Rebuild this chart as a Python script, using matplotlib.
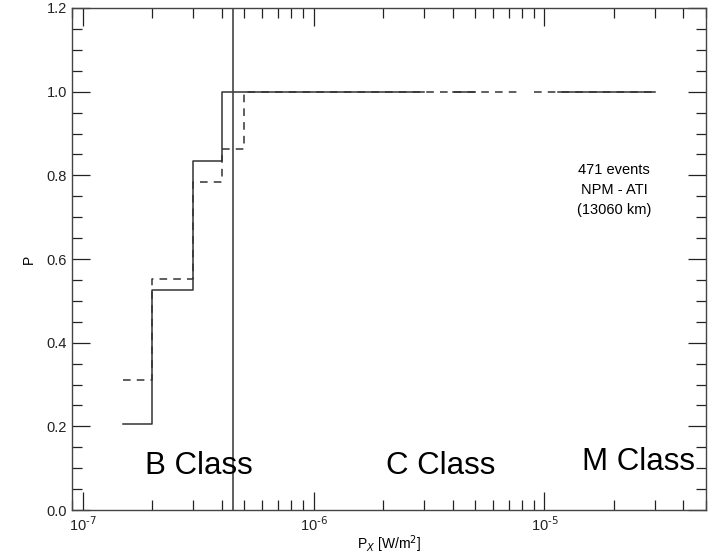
import numpy as np
import matplotlib.pyplot as plt
from matplotlib.ticker import LogLocator, MultipleLocator, NullFormatter

plt.rcParams['font.family'] = ['Liberation Sans', 'DejaVu Sans']

# ── Data ────────────────────────────────────────────────────
# solid curve: bin edges and values in the B-class range
solid_edges = [1.5e-7, 2e-7, 3e-7, 4e-7]
solid_vals = [0.205, 0.525, 0.835]
# dashed curve
dash_edges = [1.5e-7, 2e-7, 3e-7, 4e-7, 5e-7]
dash_vals = [0.31, 0.553, 0.785, 0.862]
# segments at P = 1 (gaps = empty bins)
solid_top = [(4e-7, 3e-6), (4e-6, 5e-6), (1.15e-5, 3e-5)]
dash_top = [(5e-7, 8e-6), (9e-6, 3e-5)]
vline_x = 4.5e-7
note = "471 events\nNPM - ATI\n(13060 km)"
classes = ["B Class", "C Class", "M Class"]
class_x = [1.87e-7, 2.05e-6, 1.45e-5]
class_y = [0.086, 0.086, 0.096]

fig = plt.figure(figsize=(7.08, 5.55), dpi=100)
ax = fig.add_axes([0.1017, 0.081, 0.8953, 0.9046])
lc = '#333333'


def step_xy(edges, vals):
    xs, ys = [], []
    for i, v in enumerate(vals):
        xs += [edges[i], edges[i + 1]]
        ys += [v, v]
    return xs, ys


# ── Solid curve ──────────────────────────────────────────────
xs, ys = step_xy(solid_edges, solid_vals)
xs += [solid_top[0][0], solid_top[0][1]]
ys += [1.0, 1.0]
ax.plot(xs, ys, color=lc, lw=1.1)
for a, b in solid_top[1:]:
    ax.plot([a, b], [1.0, 1.0], color=lc, lw=1.1)

# ── Dashed curve ─────────────────────────────────────────────
xs, ys = step_xy(dash_edges, dash_vals)
xs += [dash_top[0][0], dash_top[0][1]]
ys += [1.0, 1.0]
ax.plot(xs, ys, color=lc, lw=1.1, ls=(0, (5, 4)))
for a, b in dash_top[1:]:
    ax.plot([a, b], [1.0, 1.0], color=lc, lw=1.1, ls=(0, (5, 4)))

ax.axvline(vline_x, color='#444444', lw=1.2)

# ── Axes ─────────────────────────────────────────────────────
ax.set_xscale('log')
ax.set_xlim(9e-8, 5e-5)
ax.set_ylim(0, 1.2)
ax.yaxis.set_major_locator(MultipleLocator(0.2))
ax.yaxis.set_minor_locator(MultipleLocator(0.05))
ax.yaxis.set_major_formatter(plt.FuncFormatter(lambda v, p: f"{v:.1f}"))
ax.xaxis.set_major_locator(LogLocator(base=10))
ax.xaxis.set_minor_locator(LogLocator(base=10, subs=np.arange(2, 10)))
ax.xaxis.set_minor_formatter(NullFormatter())
ax.xaxis.set_major_formatter(
    plt.FuncFormatter(lambda v, p: r"10$^{\text{-}%d}$" % round(-np.log10(v))))

ax.tick_params(which='both', direction='in', top=True, right=True,
               colors='#222222', labelsize=10.5, width=0.9)
ax.tick_params(which='major', length=13)
ax.tick_params(which='minor', length=7)
for s in ax.spines.values():
    s.set_color('#444444')
    s.set_linewidth(1.0)

ax.set_xlabel("P$_X$ [W/m$^2$]", fontsize=10, labelpad=0)
ax.set_ylabel("P", fontsize=10, labelpad=8)

ax.text(2e-5, 0.766, note, ha='center', va='center', fontsize=10.5,
        linespacing=1.55)
for t, x, y in zip(classes, class_x, class_y):
    ax.text(x, y, t, fontsize=22.5, ha='left', va='baseline')

fig.savefig('out.png', dpi=100)
